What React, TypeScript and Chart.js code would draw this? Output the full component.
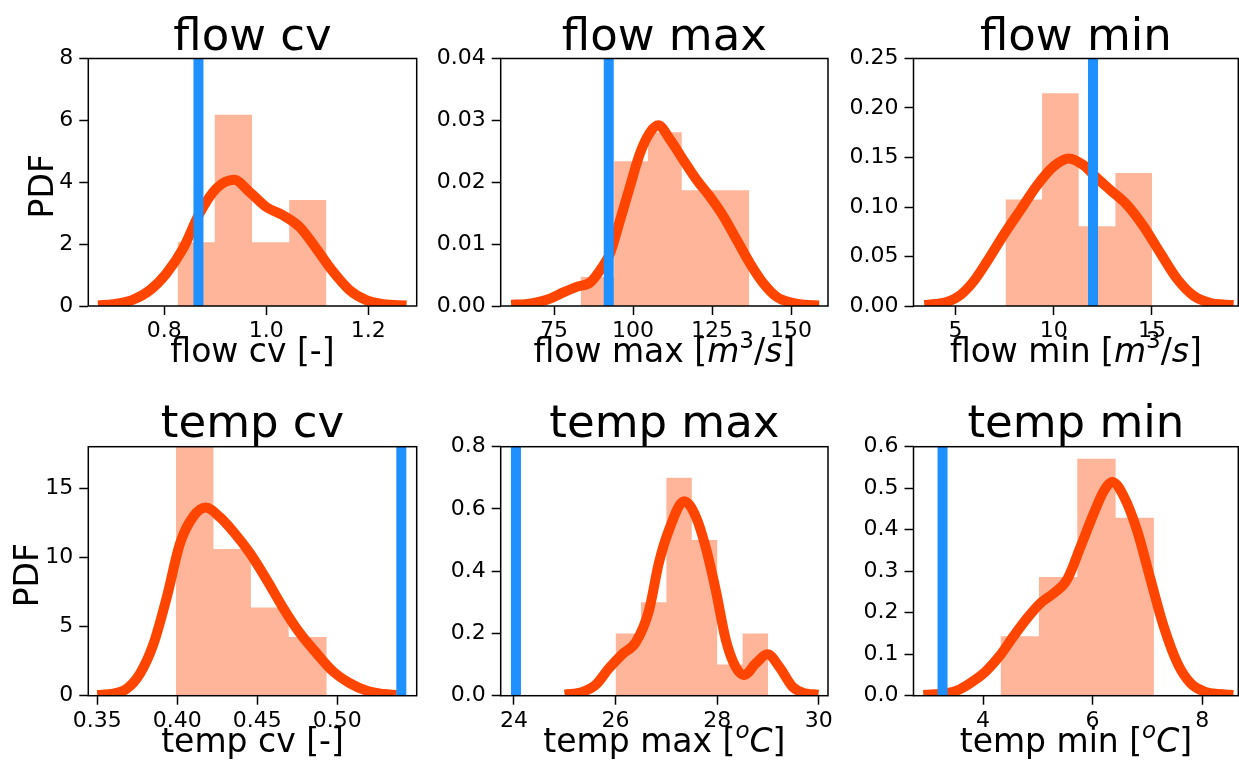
import React, { useEffect, useRef } from "react";
import { Chart, registerables } from "chart.js";

Chart.register(...registerables);

const FONT = '"DejaVu Sans", "Liberation Sans", sans-serif';
const HIST_COLOR = "rgba(255, 69, 0, 0.4)";
const KDE_COLOR = "#FF4500";
const OBS_COLOR = "#1E90FF";
const PAGE_W = 1239;
const PAGE_H = 769;

// ---------------- flow cv ----------------
const flowCvBinEdges = [0.826, 0.899, 0.972, 1.045, 1.118];
const flowCvDensity = [2.06, 6.18, 2.06, 3.43];
const flowCvKdeX = [0.67, 0.7, 0.738, 0.771, 0.804, 0.837, 0.869, 0.902, 0.937, 0.967, 1.0, 1.032, 1.065, 1.098, 1.131, 1.163, 1.196, 1.229, 1.275];
const flowCvKdeY = [0.02, 0.06, 0.2, 0.5, 1.05, 1.86, 2.99, 3.8, 4.08, 3.69, 3.2, 2.94, 2.56, 1.86, 1.11, 0.52, 0.19, 0.06, 0.02];
const flowCvObserved = 0.867;
const flowCvXTicks = [0.8, 1.0, 1.2];
const flowCvXTickLabels = ["0.8", "1.0", "1.2"];
const flowCvYTicks = [0, 2, 4, 6, 8];
const flowCvYTickLabels = ["0", "2", "4", "6", "8"];

// ---------------- flow max ----------------
const flowMaxBinEdges = [83.4, 94.0, 104.7, 115.4, 126.1, 136.8];
const flowMaxDensity = [0.0047, 0.0234, 0.0281, 0.0187, 0.0187];
const flowMaxKdeX = [61.4, 66, 69.5, 73.7, 77.9, 82.1, 86.4, 90.1, 92.7, 95.9, 99.0, 102.2, 105.3, 108.0, 111.7, 115.9, 120.1, 124.3, 128.6, 132.8, 137.0, 141.2, 145.4, 149.7, 154, 158.9];
const flowMaxKdeY = [0.0002, 0.0003, 0.0006, 0.0012, 0.0022, 0.0031, 0.0038, 0.0062, 0.0085, 0.0139, 0.0193, 0.0247, 0.028, 0.0292, 0.0269, 0.0236, 0.0204, 0.0177, 0.0145, 0.0107, 0.0069, 0.0037, 0.0015, 0.0006, 0.0002, 0.0001];
const flowMaxObserved = 92.3;
const flowMaxXTicks = [75, 100, 125, 150];
const flowMaxXTickLabels = ["75", "100", "125", "150"];
const flowMaxYTicks = [0, 0.01, 0.02, 0.03, 0.04];
const flowMaxYTickLabels = ["0.00", "0.01", "0.02", "0.03", "0.04"];

// ---------------- flow min ----------------
const flowMinBinEdges = [7.55, 9.41, 11.27, 13.14, 15.0];
const flowMinDensity = [0.1075, 0.215, 0.0806, 0.1344];
const flowMinKdeX = [3.42, 4.0, 4.57, 5.25, 5.93, 6.61, 7.46, 8.31, 9.16, 10.0, 10.77, 11.53, 12.21, 12.89, 13.74, 14.59, 15.44, 16.29, 17.14, 17.99, 18.6, 19.15];
const flowMinKdeY = [0.001, 0.002, 0.004, 0.011, 0.025, 0.045, 0.072, 0.097, 0.122, 0.141, 0.149, 0.142, 0.129, 0.117, 0.102, 0.08, 0.053, 0.027, 0.01, 0.003, 0.0015, 0.001];
const flowMinObserved = 12.0;
const flowMinXTicks = [5, 10, 15];
const flowMinXTickLabels = ["5", "10", "15"];
const flowMinYTicks = [0, 0.05, 0.1, 0.15, 0.2, 0.25];
const flowMinYTickLabels = ["0.00", "0.05", "0.10", "0.15", "0.20", "0.25"];

// ---------------- temp cv ----------------
const tempCvBinEdges = [0.3992, 0.4226, 0.446, 0.4696, 0.4934];
const tempCvDensity = [21.2, 10.6, 6.37, 4.25];
const tempCvKdeX = [0.35, 0.36, 0.3684, 0.3767, 0.385, 0.3934, 0.4017, 0.41, 0.4177, 0.4267, 0.435, 0.4454, 0.4559, 0.4663, 0.4767, 0.4871, 0.4975, 0.508, 0.5184, 0.5288, 0.537];
const tempCvKdeY = [0.05, 0.15, 0.5, 1.6, 3.7, 7.1, 11.0, 12.95, 13.6, 12.9, 11.86, 10.3, 8.37, 6.32, 4.51, 3.06, 1.74, 0.89, 0.35, 0.12, 0.05];
const tempCvObserved = 0.54;
const tempCvXTicks = [0.35, 0.4, 0.45, 0.5];
const tempCvXTickLabels = ["0.35", "0.40", "0.45", "0.50"];
const tempCvYTicks = [0, 5, 10, 15];
const tempCvYTickLabels = ["0", "5", "10", "15"];

// ---------------- temp max ----------------
const tempMaxBinEdges = [26.0, 26.5, 27.0, 27.5, 28.0, 28.5, 29.0];
const tempMaxDensity = [0.2, 0.3, 0.7, 0.5, 0.1, 0.2];
const tempMaxKdeX = [25.0, 25.35, 25.61, 25.87, 26.13, 26.4, 26.66, 26.85, 27.05, 27.35, 27.58, 27.77, 27.97, 28.17, 28.36, 28.53, 28.76, 28.99, 29.22, 29.48, 29.68, 29.99];
const tempMaxKdeY = [0.003, 0.012, 0.035, 0.088, 0.133, 0.172, 0.275, 0.425, 0.532, 0.625, 0.575, 0.479, 0.34, 0.179, 0.093, 0.066, 0.104, 0.133, 0.093, 0.029, 0.01, 0.003];
const tempMaxObserved = 24.04;
const tempMaxXTicks = [24, 26, 28, 30];
const tempMaxXTickLabels = ["24", "26", "28", "30"];
const tempMaxYTicks = [0, 0.2, 0.4, 0.6, 0.8];
const tempMaxYTickLabels = ["0.0", "0.2", "0.4", "0.6", "0.8"];

// ---------------- temp min ----------------
const tempMinBinEdges = [4.32, 5.02, 5.72, 6.42, 7.12];
const tempMinDensity = [0.143, 0.286, 0.571, 0.429];
const tempMinKdeX = [2.91, 3.33, 3.57, 3.82, 4.06, 4.31, 4.55, 4.8, 5.04, 5.29, 5.53, 5.78, 6.02, 6.2, 6.36, 6.57, 6.81, 7.06, 7.3, 7.55, 7.79, 8.04, 8.3, 8.57];
const tempMinKdeY = [0.002, 0.006, 0.015, 0.035, 0.06, 0.097, 0.142, 0.186, 0.222, 0.247, 0.279, 0.359, 0.439, 0.492, 0.515, 0.48, 0.399, 0.279, 0.166, 0.078, 0.03, 0.01, 0.004, 0.002];
const tempMinObserved = 3.26;
const tempMinXTicks = [4, 6, 8];
const tempMinXTickLabels = ["4", "6", "8"];
const tempMinYTicks = [0, 0.1, 0.2, 0.3, 0.4, 0.5, 0.6];
const tempMinYTickLabels = ["0.0", "0.1", "0.2", "0.3", "0.4", "0.5", "0.6"];

type Seg = { t: string; i?: boolean; sup?: boolean };

type PanelSpec = {
  title: string;
  xlabel: Seg[];
  ylabel?: string;
  edges: number[];
  density: number[];
  kdeX: number[];
  kdeY: number[];
  observed: number;
  xMin: number;
  xMax: number;
  yMax: number;
  xTicks: number[];
  xTickLabels: string[];
  yTicks: number[];
  yTickLabels: string[];
  area: { l: number; t: number; r: number; b: number };
  titleGap: number;
  ylabelX?: number;
};

const AREA_X = [
  { l: 88.3, r: 416.7 },
  { l: 500.7, r: 828 },
  { l: 913.5, r: 1238.3 },
];
const AREA_Y = [
  { t: 58.5, b: 306 },
  { t: 446.7, b: 695.7 },
];

function areaOf(c: number, r: number) {
  return { l: AREA_X[c].l, r: AREA_X[c].r, t: AREA_Y[r].t, b: AREA_Y[r].b };
}

const panels: PanelSpec[] = [
  {
    title: "flow cv",
    xlabel: [{ t: "flow cv [-]" }],
    ylabel: "PDF",
    edges: flowCvBinEdges,
    density: flowCvDensity,
    kdeX: flowCvKdeX,
    kdeY: flowCvKdeY,
    observed: flowCvObserved,
    xMin: 0.651,
    xMax: 1.295,
    yMax: 8,
    xTicks: flowCvXTicks,
    xTickLabels: flowCvXTickLabels,
    yTicks: flowCvYTicks,
    yTickLabels: flowCvYTickLabels,
    area: areaOf(0, 0),
    titleGap: 8.5,
    ylabelX: 53,
  },
  {
    title: "flow max",
    xlabel: [{ t: "flow max [" }, { t: "m", i: true }, { t: "3", sup: true }, { t: "/" }, { t: "s", i: true }, { t: "]" }],
    edges: flowMaxBinEdges,
    density: flowMaxDensity,
    kdeX: flowMaxKdeX,
    kdeY: flowMaxKdeY,
    observed: flowMaxObserved,
    xMin: 58.1,
    xMax: 161.7,
    yMax: 0.04,
    xTicks: flowMaxXTicks,
    xTickLabels: flowMaxXTickLabels,
    yTicks: flowMaxYTicks,
    yTickLabels: flowMaxYTickLabels,
    area: areaOf(1, 0),
    titleGap: 8.5,
  },
  {
    title: "flow min",
    xlabel: [{ t: "flow min [" }, { t: "m", i: true }, { t: "3", sup: true }, { t: "/" }, { t: "s", i: true }, { t: "]" }],
    edges: flowMinBinEdges,
    density: flowMinDensity,
    kdeX: flowMinKdeX,
    kdeY: flowMinKdeY,
    observed: flowMinObserved,
    xMin: 2.87,
    xMax: 19.39,
    yMax: 0.25,
    xTicks: flowMinXTicks,
    xTickLabels: flowMinXTickLabels,
    yTicks: flowMinYTicks,
    yTickLabels: flowMinYTickLabels,
    area: areaOf(2, 0),
    titleGap: 8.5,
  },
  {
    title: "temp cv",
    xlabel: [{ t: "temp cv [-]" }],
    ylabel: "PDF",
    edges: tempCvBinEdges,
    density: tempCvDensity,
    kdeX: tempCvKdeX,
    kdeY: tempCvKdeY,
    observed: tempCvObserved,
    xMin: 0.3444,
    xMax: 0.5496,
    yMax: 18,
    xTicks: tempCvXTicks,
    xTickLabels: tempCvXTickLabels,
    yTicks: tempCvYTicks,
    yTickLabels: tempCvYTickLabels,
    area: areaOf(0, 1),
    titleGap: 10,
    ylabelX: 38,
  },
  {
    title: "temp max",
    xlabel: [{ t: "temp max [" }, { t: "o", i: true, sup: true }, { t: "C", i: true }, { t: "]" }],
    edges: tempMaxBinEdges,
    density: tempMaxDensity,
    kdeX: tempMaxKdeX,
    kdeY: tempMaxKdeY,
    observed: tempMaxObserved,
    xMin: 23.74,
    xMax: 30.18,
    yMax: 0.8,
    xTicks: tempMaxXTicks,
    xTickLabels: tempMaxXTickLabels,
    yTicks: tempMaxYTicks,
    yTickLabels: tempMaxYTickLabels,
    area: areaOf(1, 1),
    titleGap: 10,
  },
  {
    title: "temp min",
    xlabel: [{ t: "temp min [" }, { t: "o", i: true, sup: true }, { t: "C", i: true }, { t: "]" }],
    edges: tempMinBinEdges,
    density: tempMinDensity,
    kdeX: tempMinKdeX,
    kdeY: tempMinKdeY,
    observed: tempMinObserved,
    xMin: 2.73,
    xMax: 8.66,
    yMax: 0.6,
    xTicks: tempMinXTicks,
    xTickLabels: tempMinXTickLabels,
    yTicks: tempMinYTicks,
    yTickLabels: tempMinYTickLabels,
    area: areaOf(2, 1),
    titleGap: 10,
  },
];

const Y_AXIS_W = 80;
const X_AXIS_H = 40;
const TICK_LEN = 9;
const TITLE_SIZE = 45;
const LABEL_SIZE = 33;
const TICK_SIZE = 22;
const XLABEL_GAP = 56;

function drawRich(ctx: CanvasRenderingContext2D, segs: Seg[], cx: number, baseline: number, size: number) {
  const fontFor = (s: Seg) => `${s.i ? "italic " : ""}${s.sup ? Math.round(size * 0.7) : size}px ${FONT}`;
  let total = 0;
  const widths = segs.map((s) => {
    ctx.font = fontFor(s);
    const w = ctx.measureText(s.t).width;
    total += w;
    return w;
  });
  let x = cx - total / 2;
  ctx.textAlign = "left";
  ctx.textBaseline = "alphabetic";
  segs.forEach((s, k) => {
    ctx.font = fontFor(s);
    ctx.fillText(s.t, x, baseline - (s.sup ? size * 0.42 : 0));
    x += widths[k];
  });
}

function makeDecor(p: PanelSpec) {
  return {
    id: "decor",
    afterDatasetsDraw(chart: any) {
      const { ctx, chartArea: a } = chart;
      ctx.save();
      ctx.strokeStyle = "#000";
      ctx.lineWidth = 1.5;
      ctx.strokeRect(a.left, a.top, a.right - a.left, a.bottom - a.top);
      ctx.fillStyle = "#000";
      ctx.font = `${TITLE_SIZE}px ${FONT}`;
      ctx.textAlign = "center";
      ctx.textBaseline = "alphabetic";
      ctx.fillText(p.title, (a.left + a.right) / 2, a.top - p.titleGap);
      drawRich(ctx, p.xlabel, (a.left + a.right) / 2, a.bottom + XLABEL_GAP, LABEL_SIZE);
      if (p.ylabel && p.ylabelX !== undefined) {
        ctx.save();
        ctx.translate(p.ylabelX, (a.top + a.bottom) / 2 + 4);
        ctx.rotate(-Math.PI / 2);
        ctx.font = `${LABEL_SIZE}px ${FONT}`;
        ctx.textAlign = "center";
        ctx.textBaseline = "alphabetic";
        ctx.fillText(p.ylabel, 0, 0);
        ctx.restore();
      }
      ctx.restore();
    },
  };
}

function buildConfig(p: PanelSpec): any {
  const n = p.density.length;
  // step drawn before each point: bin i spans edges[i]..edges[i+1] with height density[i]
  const histPoints = p.edges.map((e, i) => ({ x: e, y: p.density[Math.min(i, n - 1)] }));
  const kdePoints = p.kdeX.map((x, i) => ({ x, y: p.kdeY[i] }));
  const obsPoints = [
    { x: p.observed, y: 0 },
    { x: p.observed, y: p.yMax },
  ];
  const pad = {
    left: p.area.l - Y_AXIS_W,
    right: PAGE_W - p.area.r,
    top: p.area.t,
    bottom: PAGE_H - p.area.b - X_AXIS_H,
  };
  const tickFont = { family: FONT, size: TICK_SIZE };
  const grid = {
    display: true,
    drawOnChartArea: false,
    drawTicks: true,
    tickLength: TICK_LEN,
    tickWidth: 1.5,
    tickColor: "#000",
  };
  return {
    type: "line",
    data: {
      datasets: [
        {
          data: obsPoints,
          borderColor: OBS_COLOR,
          borderWidth: 10,
          pointRadius: 0,
          fill: false,
          clip: 0,
          order: 0,
        },
        {
          data: kdePoints,
          borderColor: KDE_COLOR,
          borderWidth: 10,
          pointRadius: 0,
          fill: false,
          cubicInterpolationMode: "monotone",
          borderJoinStyle: "round",
          clip: 0,
          order: 1,
        },
        {
          data: histPoints,
          stepped: "before",
          borderColor: "rgba(0,0,0,0)",
          borderWidth: 0,
          backgroundColor: HIST_COLOR,
          pointRadius: 0,
          fill: "origin",
          clip: 0,
          order: 2,
        },
      ],
    },
    options: {
      animation: false,
      responsive: false,
      devicePixelRatio: 1,
      events: [],
      layout: { padding: pad },
      plugins: { legend: { display: false }, tooltip: { enabled: false }, title: { display: false } },
      scales: {
        x: {
          type: "linear",
          min: p.xMin,
          max: p.xMax,
          bounds: "data",
          afterBuildTicks: (s: any) => {
            s.ticks = p.xTicks.map((v) => ({ value: v }));
          },
          afterFit: (s: any) => {
            s.height = X_AXIS_H;
          },
          ticks: {
            autoSkip: false,
            maxRotation: 0,
            minRotation: 0,
            padding: 3,
            color: "#000",
            font: tickFont,
            callback: (_v: any, i: number) => p.xTickLabels[i],
          },
          grid,
          border: { display: false },
        },
        y: {
          type: "linear",
          min: 0,
          max: p.yMax,
          bounds: "data",
          afterBuildTicks: (s: any) => {
            s.ticks = p.yTicks.map((v) => ({ value: v }));
          },
          afterFit: (s: any) => {
            s.width = Y_AXIS_W;
          },
          ticks: {
            autoSkip: false,
            padding: 6,
            color: "#000",
            font: tickFont,
            callback: (_v: any, i: number) => p.yTickLabels[i],
          },
          grid,
          border: { display: false },
        },
      },
    },
    plugins: [makeDecor(p)],
  };
}

function PanelChart({ p }: { p: PanelSpec }) {
  const ref = useRef<HTMLCanvasElement | null>(null);
  useEffect(() => {
    if (!ref.current) return;
    const chart = new Chart(ref.current, buildConfig(p));
    return () => chart.destroy();
  }, [p]);
  return (
    <canvas
      ref={ref}
      width={PAGE_W}
      height={PAGE_H}
      style={{ position: "absolute", left: 0, top: 0, width: PAGE_W, height: PAGE_H }}
    />
  );
}

export default function App() {
  return (
    <div style={{ position: "absolute", left: 0, top: 0, width: PAGE_W, height: PAGE_H, background: "#fff", overflow: "hidden" }}>
      {panels.map((p, i) => (
        <PanelChart key={i} p={p} />
      ))}
    </div>
  );
}
